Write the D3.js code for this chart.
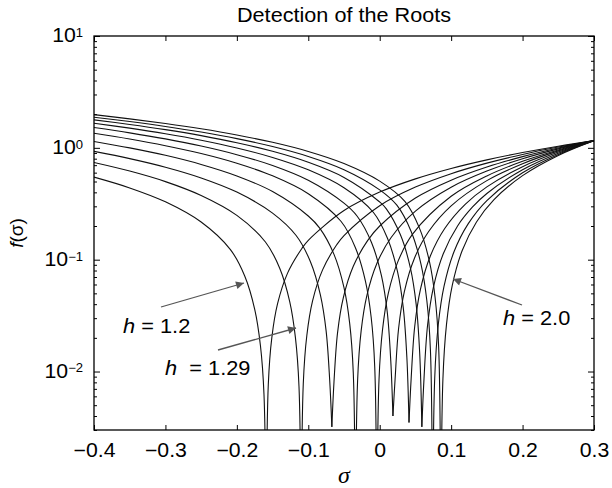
<!DOCTYPE html>
<html><head><meta charset="utf-8">
<script src="https://cdn.jsdelivr.net/npm/d3@7"></script>
<style>
body{margin:0;background:#fff}
text{font-family:"Liberation Sans",Arial,Helvetica,sans-serif;fill:#000}
</style>
</head><body>
<svg id="chart" width="612" height="488"></svg>
<script>
// ---------------- data ----------------
const hLabels = ["1.2","1.29","1.38","1.47","1.56","1.64","1.73","1.82","1.91","2.0"];
const xTicks = [-0.4,-0.3,-0.2,-0.1,0,0.1,0.2,0.3];
const yTicks = [0.01,0.1,1,10];

const sigma_h1 = [-0.4,-0.35,-0.3,-0.25,-0.209,-0.189,-0.175,-0.167,-0.162,-0.159,-0.156,-0.151,-0.143,-0.129,-0.109,-0.1,-0.05,0,0.05,0.1,0.15,0.2,0.25,0.3];
const f_h1     = [0.547,0.438,0.329,0.217,0.123,0.0715,0.036,0.0171,0.0062,0.0001,0.0076,0.0202,0.0404,0.0758,0.126,0.149,0.275,0.402,0.528,0.654,0.781,0.907,1.034,1.16];

const sigma_h2 = [-0.4,-0.35,-0.3,-0.25,-0.2,-0.16,-0.14,-0.126,-0.118,-0.113,-0.11,-0.107,-0.102,-0.094,-0.08,-0.06,-0.05,0,0.05,0.1,0.15,0.2,0.25,0.3];
const f_h2     = [0.74,0.62,0.499,0.375,0.249,0.144,0.0839,0.0422,0.0201,0.0073,0.0001,0.0078,0.0211,0.0428,0.0811,0.1365,0.1643,0.304,0.4455,0.5875,0.73,0.873,1.016,1.16];

const sigma_h3 = [-0.4,-0.35,-0.3,-0.25,-0.2,-0.15,-0.117,-0.097,-0.083,-0.075,-0.07,-0.067,-0.064,-0.059,-0.051,-0.037,-0.017,0,0.05,0.1,0.15,0.2,0.25,0.3];
const f_h3     = [0.93,0.801,0.671,0.538,0.402,0.261,0.1645,0.0959,0.0483,0.023,0.0083,0.0032,0.0081,0.0223,0.0456,0.0872,0.148,0.2,0.356,0.514,0.674,0.835,0.997,1.16];

const sigma_h4 = [-0.4,-0.35,-0.3,-0.25,-0.2,-0.15,-0.1,-0.084,-0.064,-0.05,-0.042,-0.037,-0.034,-0.031,-0.026,-0.018,-0.004,0.016,0.05,0.1,0.15,0.2,0.25,0.3];
const f_h4     = [1.14,0.999,0.857,0.711,0.561,0.407,0.246,0.1915,0.1116,0.0562,0.0268,0.0097,0.0001,0.0082,0.0231,0.0477,0.0924,0.158,0.272,0.445,0.62,0.799,0.979,1.16];

const sigma_h5 = [-0.4,-0.35,-0.3,-0.25,-0.2,-0.15,-0.1,-0.054,-0.034,-0.02,-0.012,-0.007,-0.004,-0.001,0.004,0.012,0.026,0.046,0.1,0.15,0.2,0.25,0.3];
const f_h5     = [1.35,1.199,1.045,0.889,0.728,0.562,0.389,0.2195,0.1279,0.0644,0.0307,0.0111,0.0001,0.0084,0.0239,0.0501,0.098,0.169,0.369,0.561,0.758,0.958,1.16];

const sigma_h6 = [-0.4,-0.35,-0.3,-0.25,-0.2,-0.15,-0.1,-0.05,-0.0315,-0.0115,0.0025,0.0105,0.0155,0.0185,0.0215,0.0265,0.0345,0.0485,0.0685,0.1,0.15,0.2,0.25,0.3];
const f_h6     = [1.52,1.362,1.202,1.038,0.869,0.695,0.513,0.32,0.2445,0.1425,0.0717,0.0342,0.0124,0.004,0.0085,0.0245,0.0519,0.1026,0.1785,0.303,0.509,0.721,0.939,1.16];

const sigma_h7 = [-0.4,-0.35,-0.3,-0.25,-0.2,-0.15,-0.1,-0.05,-0.009,0.011,0.025,0.033,0.038,0.041,0.044,0.049,0.057,0.071,0.091,0.12,0.15,0.2,0.25,0.3];
const f_h7     = [1.66,1.5,1.337,1.17,0.998,0.821,0.636,0.44,0.2655,0.1547,0.0779,0.0371,0.0134,0.0035,0.0086,0.0253,0.0542,0.1083,0.19,0.314,0.448,0.678,0.916,1.16];

const sigma_h8 = [-0.4,-0.35,-0.3,-0.25,-0.2,-0.15,-0.1,-0.05,0,0.009,0.029,0.043,0.051,0.056,0.059,0.062,0.067,0.075,0.089,0.109,0.13,0.15,0.2,0.25,0.3];
const f_h8     = [1.78,1.619,1.454,1.285,1.111,0.931,0.743,0.544,0.328,0.2865,0.1669,0.0841,0.04,0.0145,0.0032,0.0086,0.0259,0.0561,0.1131,0.2002,0.296,0.391,0.637,0.895,1.16];

const sigma_h9 = [-0.4,-0.35,-0.3,-0.25,-0.2,-0.15,-0.1,-0.05,0,0.024,0.044,0.058,0.066,0.071,0.074,0.077,0.082,0.09,0.104,0.124,0.15,0.2,0.25,0.3];
const f_h9     = [1.88,1.719,1.554,1.384,1.209,1.028,0.838,0.638,0.421,0.307,0.1788,0.09,0.0429,0.0155,0.0001,0.0087,0.0263,0.0577,0.1177,0.21,0.338,0.599,0.874,1.16];

const sigma_h10 = [-0.4,-0.35,-0.3,-0.25,-0.2,-0.15,-0.1,-0.05,0,0.0355,0.0555,0.0695,0.0775,0.0825,0.0855,0.0885,0.0935,0.1015,0.1155,0.1355,0.16,0.2,0.25,0.3];
const f_h10     = [1.98,1.817,1.651,1.48,1.303,1.12,0.928,0.724,0.504,0.33,0.1924,0.0969,0.0461,0.0167,0.0001,0.0086,0.0264,0.0586,0.1207,0.2174,0.344,0.564,0.855,1.16];

// ---------------- layout ----------------
const L = 94, R = 594, T = 36, B = 430;
const SX = 1.09;                       // horizontal stretch of the reference lettering
const svg = d3.select("#chart");

const x = d3.scaleLinear().domain([-0.4, 0.3]).range([L, R]);
const y = d3.scaleLog().domain([0.003, 10]).range([B, T]);

const series = [
  [sigma_h1, f_h1],[sigma_h2, f_h2],[sigma_h3, f_h3],[sigma_h4, f_h4],[sigma_h5, f_h5],
  [sigma_h6, f_h6],[sigma_h7, f_h7],[sigma_h8, f_h8],[sigma_h9, f_h9],[sigma_h10, f_h10]
].map(([s, f], i) => ({h: hLabels[i], pts: s.map((v, k) => [v, f[k]])}));

svg.append("clipPath").attr("id", "clip")
  .append("rect").attr("x", L).attr("y", T).attr("width", R - L).attr("height", B - T);

const line = d3.line().x(d => x(d[0])).y(d => y(d[1])).curve(d3.curveCatmullRom.alpha(0.5));

const g = svg.append("g").attr("clip-path", "url(#clip)");
series.forEach(sr => {
  let m = 0;
  sr.pts.forEach((p, k) => { if (p[1] < sr.pts[m][1]) m = k; });
  [sr.pts.slice(0, m + 1), sr.pts.slice(m)].forEach(part => {
    g.append("path").attr("d", line(part))
      .attr("fill", "none").attr("stroke", "#111").attr("stroke-width", 1.1);
  });
});

// ---------------- axes ----------------
const minor = [];
for (let e = -3; e <= 0; e++) for (let k = 2; k <= 9; k++) {
  const v = k * Math.pow(10, e);
  if (v >= 0.003 && v <= 10) minor.push(v);
}
const fmtX = d => d === 0 ? "0" : d3.format(".1f")(d).replace("-", "\u2212");

const axB = svg.append("g").attr("transform", `translate(0,${B})`)
  .call(d3.axisBottom(x).tickValues(xTicks).tickSizeInner(-5).tickSizeOuter(0).tickPadding(13).tickFormat(fmtX));
const axT = svg.append("g").attr("transform", `translate(0,${T})`)
  .call(d3.axisTop(x).tickValues(xTicks).tickSizeInner(-5).tickSizeOuter(0).tickFormat(""));
const axL = svg.append("g").attr("transform", `translate(${L},0)`)
  .call(d3.axisLeft(y).tickValues(yTicks).tickSizeInner(-6).tickSizeOuter(0).tickFormat(""));
const axLm = svg.append("g").attr("transform", `translate(${L},0)`)
  .call(d3.axisLeft(y).tickValues(minor).tickSizeInner(-3).tickSizeOuter(0).tickFormat(""));
const axR = svg.append("g").attr("transform", `translate(${R},0)`)
  .call(d3.axisRight(y).tickValues(yTicks).tickSizeInner(-6).tickSizeOuter(0).tickFormat(""));
const axRm = svg.append("g").attr("transform", `translate(${R},0)`)
  .call(d3.axisRight(y).tickValues(minor).tickSizeInner(-3).tickSizeOuter(0).tickFormat(""));

[axB, axT, axL, axLm, axR, axRm].forEach(a => {
  a.select(".domain").remove();
  a.selectAll(".tick line").attr("stroke", "#000").attr("stroke-width", 1);
});
axB.selectAll(".tick text").attr("font-size", 19.5).attr("fill", "#000")
  .attr("transform", `scale(${SX},1)`)
  .style("font-family", "'Liberation Sans',Arial,sans-serif");

const expo = v => Math.round(Math.log10(v));
axL.selectAll(".tick").each(function(d) {
  const t = d3.select(this).append("text")
    .attr("x", -10).attr("dy", "0.3em").attr("text-anchor", "end")
    .attr("transform", `scale(${SX},1)`)
    .attr("font-size", 19.5);
  t.append("tspan").text("10");
  t.append("tspan").attr("dy", "-0.45em").attr("font-size", 12)
    .text(String(expo(d)).replace("-", "\u2212"));
});

svg.append("rect").attr("x", L).attr("y", T).attr("width", R - L).attr("height", B - T)
  .attr("fill", "none").attr("stroke", "#000").attr("stroke-width", 1.3);

// ---------------- titles ----------------
svg.append("text").attr("transform", `translate(${(L + R) / 2},22) scale(${SX + 0.02},1)`)
  .attr("text-anchor", "middle").attr("font-size", 19.5).text("Detection of the Roots");

svg.append("text").attr("x", (L + R) / 2).attr("y", 483).attr("text-anchor", "middle")
  .attr("font-size", 24).attr("font-style", "italic")
  .style("font-family", "'Liberation Serif','Times New Roman',serif").text("\u03c3");

const yl = svg.append("text").attr("transform", `translate(23,${(T + B) / 2}) rotate(-90)`)
  .attr("text-anchor", "middle").attr("font-size", 19);
yl.append("tspan").attr("font-style", "italic").text("f");
yl.append("tspan").text("(\u03c3)");

// ---------------- annotations ----------------
const defs = svg.append("defs");
defs.append("marker").attr("id", "arr").attr("viewBox", "0 0 10 10")
  .attr("refX", 10).attr("refY", 5).attr("markerWidth", 12).attr("markerHeight", 8)
  .attr("markerUnits", "userSpaceOnUse").attr("orient", "auto")
  .append("path").attr("d", "M0,0 L10,5 L0,10 z").attr("fill", "#555");

const arrows = [
  {x1: 161, y1: 307, x2: 244, y2: 283},
  {x1: 218, y1: 350, x2: 296, y2: 328},
  {x1: 522, y1: 305, x2: 453, y2: 279}
];
arrows.forEach(a => svg.append("line")
  .attr("x1", a.x1).attr("y1", a.y1).attr("x2", a.x2).attr("y2", a.y2)
  .attr("stroke", "#555").attr("stroke-width", 1.3).attr("marker-end", "url(#arr)"));

const notes = [
  {x: 123, y: 333, h: "h", rest: " = 1.2"},
  {x: 165, y: 375, h: "h", rest: "  = 1.29"},
  {x: 503, y: 325, h: "h", rest: " = 2.0"}
];
notes.forEach(n => {
  const t = svg.append("text").attr("transform", `translate(${n.x},${n.y}) scale(${SX},1)`)
    .attr("font-size", 20).style("white-space", "pre");
  t.append("tspan").attr("font-style", "italic").text(n.h);
  t.append("tspan").text(n.rest);
});
</script>
</body></html>
